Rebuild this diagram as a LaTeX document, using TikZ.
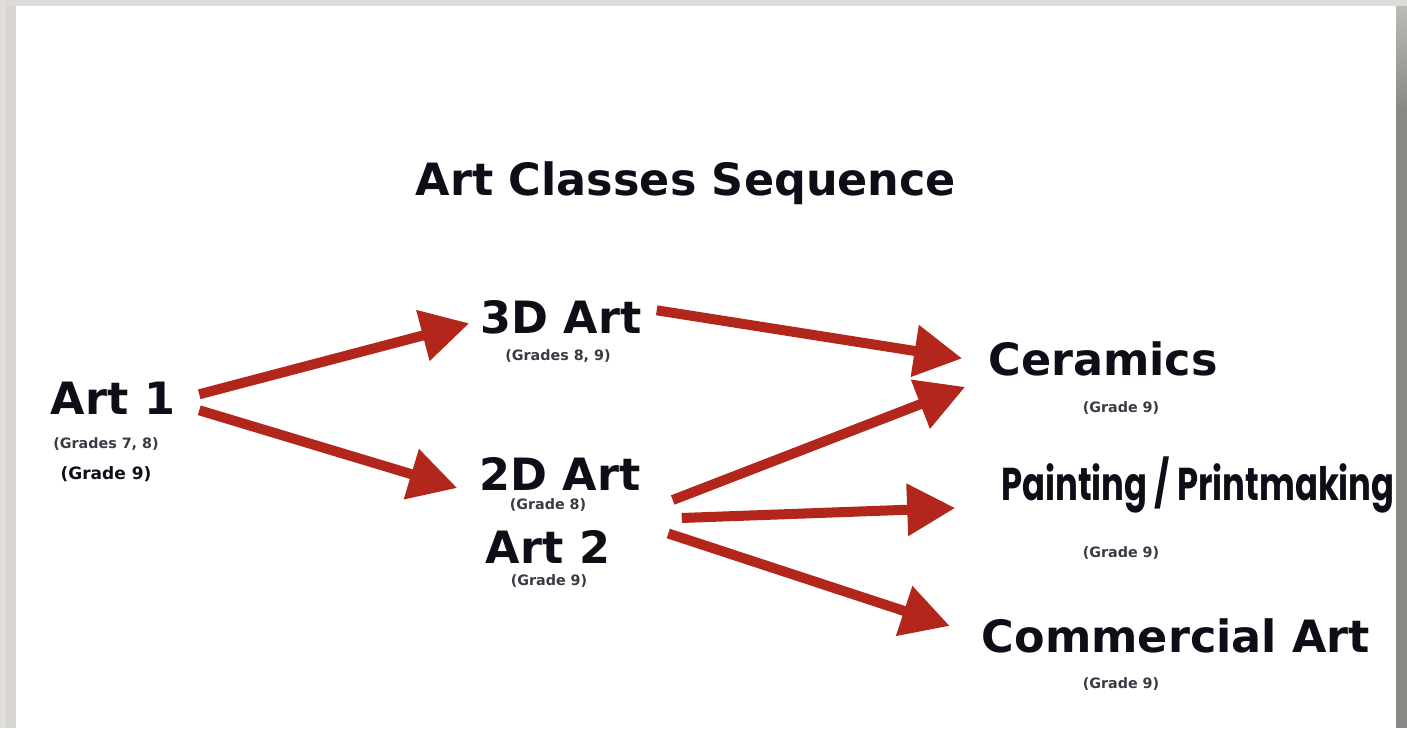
\documentclass[tikz,border=0pt]{standalone}
\usepackage{fontspec}
\setmainfont{DejaVu Sans}
\newfontfamily\paintfont{Poppins}
\usetikzlibrary{arrows.meta,calc}
\definecolor{arrowred}{RGB}{178,38,28}
\definecolor{inkblack}{RGB}{14,14,24}
\definecolor{inkgray}{RGB}{58,58,68}
\definecolor{frameleft}{RGB}{216,213,209}
\definecolor{frametop}{RGB}{221,219,215}
\definecolor{frameright}{RGB}{138,136,133}
\tikzset{
  bigname/.style={anchor=base,inner sep=0pt,text=inkblack,font=\fontsize{44.5}{50}\selectfont\bfseries},
  gradelabel/.style={anchor=base,inner sep=0pt,text=inkgray,font=\fontsize{14.3}{16}\selectfont\bfseries},
  flow/.style={draw=arrowred,line width=10pt,-{Triangle[length=48pt,width=50pt]}}
}
\begin{document}
\begin{tikzpicture}[x=1pt,y=-1pt,line join=round]
\useasboundingbox (0,0) rectangle (1407,728);
\fill[white] (0,0) rectangle (1407,728);
\fill[frametop] (0,0) rectangle (1407,6);
\fill[frameleft!80!white] (0,0) rectangle (6,728);
\fill[frameleft] (6,6) rectangle (16,728);
\shade[top color=frametop!85!black,bottom color=frameright] (1396,6) rectangle (1407,110);
\fill[frameright] (1396,110) rectangle (1407,728);

\node[bigname] (title) at (686,195) {Art Classes Sequence};

\node[bigname] (art1) at (113,414) {Art 1};
\node[gradelabel] (art1g) at (106,448) {(Grades 7, 8)};
\node[anchor=base,inner sep=0pt,text=inkblack,font=\fontsize{17}{19}\selectfont\bfseries] (art1n) at (106,479) {(Grade 9)};

\node[bigname] (threeD) at (561,333) {3D Art};
\node[gradelabel] (threeDg) at (558,360) {(Grades 8, 9)};

\node[bigname] (twoD) at (560,490) {2D Art};
\node[gradelabel] (twoDg) at (548,509) {(Grade 8)};
\node[bigname] (art2) at (548,563) {Art 2};
\node[gradelabel] (art2g) at (549,585) {(Grade 9)};

\node[bigname] (cer) at (1103,375) {Ceramics};
\node[gradelabel] (cerg) at (1121,412) {(Grade 9)};

\node[anchor=base,inner sep=0pt,text=inkblack,xscale=0.735,font=\fontsize{46}{50}\paintfont\bfseries] (paint) at (1198,500) {Painting / Printmaking};
\node[gradelabel] (paintg) at (1121,557) {(Grade 9)};

\node[bigname] (comm) at (1176,652) {Commercial Art};
\node[gradelabel] (commg) at (1121,688) {(Grade 9)};

\draw[flow] ($(art1.east)+(24,-3.5)$) -- ($(threeD.west)+(-11,6.5)$);
\draw[flow] ($(art1.east)+(24,12.5)$) -- ($(twoD.west)+(-22,14.5)$);
\draw[flow] ($(threeD.east)+(15,-6.5)$) -- ($(cer.west)+(-26,0)$);
\draw[flow] ($(twoD.east)+(32,26.5)$) -- ($(cer.west)+(-23,28.5)$);
\draw[flow] ($(twoD.east)+(41,44.5)$) -- ($(paint.base west)+(-46,8)$);
\draw[flow] ($(art2.east)+(58,-13)$) -- ($(comm.west)+(-32,-9.5)$);
\end{tikzpicture}
\end{document}
